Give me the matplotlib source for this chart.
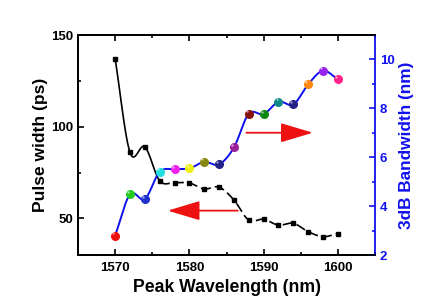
import numpy as np
import matplotlib
matplotlib.use("Agg")
import matplotlib.pyplot as plt
from matplotlib.ticker import MultipleLocator

plt.rcParams['font.family'] = ['Liberation Sans', 'DejaVu Sans']
plt.rcParams['font.weight'] = 'bold'

wl = [1570, 1572, 1574, 1576, 1578, 1580, 1582, 1584, 1586, 1588, 1590, 1592, 1594, 1596, 1598, 1600]
pulse = [137, 86, 89, 70.5, 69.5, 69.3, 66, 67, 60, 49, 49.5, 46.3, 47.3, 42.7, 40, 41.7]
bw = [2.79, 4.48, 4.29, 5.40, 5.51, 5.54, 5.81, 5.71, 6.40, 7.78, 7.76, 8.27, 8.16, 8.98, 9.54, 9.18]
bw_colors = ['#ee1111', '#22cc22', '#2233cc', '#22dddd', '#ee22ee', '#eeee11', '#888811', '#222288',
             '#992299', '#881111', '#118811', '#118888', '#222288', '#ff8811', '#9922ee', '#ff2288']


def catmull(x, y, n=20):
    x = np.asarray(x, float); y = np.asarray(y, float)
    px = np.concatenate([[2*x[0]-x[1]], x, [2*x[-1]-x[-2]]])
    py = np.concatenate([[2*y[0]-y[1]], y, [2*y[-1]-y[-2]]])
    xs, ys = [], []
    for i in range(1, len(px)-2):
        t = np.linspace(0, 1, n, endpoint=False)
        for p, out in ((px, xs), (py, ys)):
            p0, p1, p2, p3 = p[i-1], p[i], p[i+1], p[i+2]
            out.append(0.5*((2*p1) + (-p0+p2)*t + (2*p0-5*p1+4*p2-p3)*t**2 + (-p0+3*p1-3*p2+p3)*t**3))
    xs.append([x[-1]]); ys.append([y[-1]])
    return np.concatenate(xs), np.concatenate(ys)


fig = plt.figure(figsize=(4.36, 3.06), dpi=100)
ax = fig.add_axes([78/436, 1-255/306, (375-78)/436, (255-35)/306])
ax2 = ax.twinx()

# black curve
sx, sy = catmull(wl, pulse)
m = sx <= 1576
ax.plot(sx[m], sy[m], color='black', lw=1.2, zorder=2)
ax.plot(sx[~m], sy[~m], color='black', lw=1.2, ls=(0, (6, 2.5)), zorder=2)
ax.plot(wl, pulse, 's', color='black', ms=3.5, zorder=3)

# blue curve
bx, by = catmull(wl, bw)
ax2.plot(bx, by, color='#1010ee', lw=1.4, zorder=2)
for x, y, c in zip(wl, bw, bw_colors):
    ax2.plot(x, y, 'o', color=c, ms=5.5, mec=c, zorder=3)
    ax2.plot(x - 0.25, y + 0.1, 'o', color='white', alpha=0.6, ms=1.6, mew=0, zorder=4)

# arrows
ax.annotate('', xy=(1597, 96.7), xytext=(1587.3, 96.7),
            arrowprops=dict(arrowstyle='-|>,head_length=2.0,head_width=0.6', color='#ee1111', lw=1.3))
ax.annotate('', xy=(1576.7, 54.2), xytext=(1586.9, 54.2),
            arrowprops=dict(arrowstyle='-|>,head_length=2.0,head_width=0.6', color='#ee1111', lw=1.3))

ax.set_xlim(1565, 1605)
ax.set_ylim(30, 150)
ax2.set_ylim(2, 11)

ax.xaxis.set_major_locator(MultipleLocator(10))
ax.xaxis.set_minor_locator(MultipleLocator(5))
ax.yaxis.set_major_locator(MultipleLocator(50))
ax.yaxis.set_minor_locator(MultipleLocator(25))
ax2.yaxis.set_major_locator(MultipleLocator(2))
ax2.yaxis.set_minor_locator(MultipleLocator(1))

ax.tick_params(axis='both', which='both', direction='in', labelsize=9.5, width=1.2, top=True)
ax.tick_params(which='major', length=4)
ax.tick_params(which='minor', length=2.5)
ax.tick_params(axis='x', pad=5)
ax2.tick_params(axis='y', which='both', direction='in', labelsize=9.5, width=1.2, colors='#1010ee')
ax2.tick_params(which='major', length=4)
ax2.tick_params(which='minor', length=2.5)

for s in ['left', 'bottom', 'top']:
    ax.spines[s].set_linewidth(1.3)
    ax2.spines[s].set_linewidth(1.3)
ax2.spines['right'].set_color('#1010ee')
ax2.spines['right'].set_linewidth(1.3)
ax.spines['right'].set_visible(False)

for lab in ax.get_xticklabels() + ax.get_yticklabels() + ax2.get_yticklabels():
    lab.set_fontweight('bold')

ax.set_xlabel('Peak Wavelength (nm)', fontsize=12.7, fontweight='bold', labelpad=4)
ax.set_ylabel('Pulse width (ps)', fontsize=12.5, fontweight='bold', labelpad=2)
ax2.set_ylabel('3dB Bandwidth (nm)', fontsize=12.4, fontweight='bold', color='#1010ee', labelpad=3)

fig.savefig('out.png', dpi=100)
